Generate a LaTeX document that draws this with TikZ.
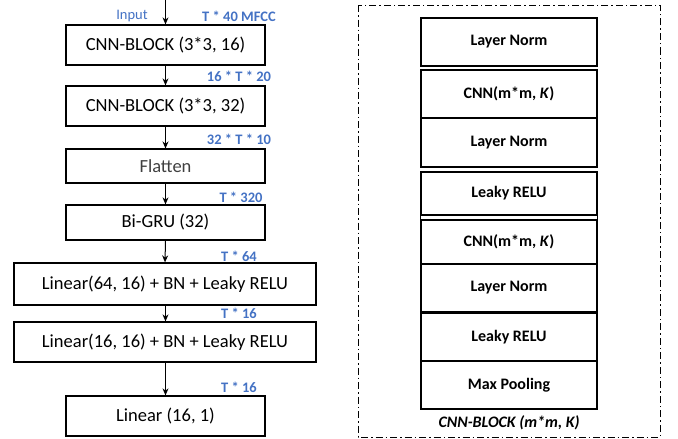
\documentclass[tikz,border=0pt]{standalone}
\usepackage{fontspec}
\setmainfont{Carlito}
\usetikzlibrary{arrows.meta}
\definecolor{lblue}{HTML}{4472C4}
\tikzset{
  box/.style={draw=black, line width=1.3pt, rectangle, inner sep=0pt, font=\fontsize{18.5}{20}\selectfont},
  sbox/.style={draw=black, line width=1.3pt, rectangle, inner sep=0pt, minimum width=176pt, font=\bfseries\fontsize{16}{18}\selectfont},
  arr/.style={-{Stealth[length=7pt,width=6pt]}, line width=1pt},
  dim/.style={text=lblue, font=\bfseries\fontsize{14.5}{16}\selectfont, inner sep=0pt},
}
\begin{document}
\begin{tikzpicture}[x=1pt,y=-1pt]
\useasboundingbox (0,0) rectangle (678,439);
% left column
\coordinate (in) at (165.5,0);
\node[box, minimum width=199pt, minimum height=40pt] (b1) at (165.5,45) {CNN-BLOCK (3*3, 16)};
\node[box, minimum width=199pt, minimum height=40pt] (b2) at (165.5,106) {CNN-BLOCK (3*3, 32)};
\node[box, minimum width=199pt, minimum height=34pt, line width=1.1pt, text=black!75] (fl) at (165.5,166) {Flatten};
\node[box, minimum width=199pt, minimum height=35pt] (gru) at (165.5,222.5) {Bi-GRU (32)};
\node[box, minimum width=302pt, minimum height=42pt] (l1) at (165,284) {Linear(64, 16) + BN + Leaky RELU};
\node[box, minimum width=302pt, minimum height=40pt] (l2) at (165,342) {Linear(16, 16) + BN + Leaky RELU};
\node[box, minimum width=199pt, minimum height=40pt] (l3) at (165.5,416) {Linear (16, 1)};
\draw[arr] (in) -- (b1.north);
\draw[arr] (b1.south) -- (b2.north);
\draw[arr] (b2.south) -- (fl.north);
\draw[arr] (fl.south) -- (gru.north);
\draw[arr] (gru.south) -- (l1.north);
\draw[arr] ([xshift=0.5pt]l1.south) -- ([xshift=0.5pt]l2.north);
\draw[arr] ([xshift=0.5pt]l2.south) -- (l3.north);
% labels
\node[text=lblue, font=\fontsize{14.5}{16}\selectfont, inner sep=0pt] (inl) at (132,16) {Input};
\node[dim] (d0) at (239,16.5) {T * 40 MFCC};
\node[dim] (d1) at (239,76) {16 * T * 20};
\node[dim] (d2) at (239,139) {32 * T * 10};
\node[dim] (d3) at (241,197.5) {T * 320};
\node[dim] (d4) at (239,256) {T * 64};
\node[dim] (d5) at (239,313.5) {T * 16};
\node[dim] (d6) at (239,387.5) {T * 16};
% right frame
\draw[line width=1pt, dash pattern=on 7pt off 3pt on 1.5pt off 3pt] (358,5) rectangle (660,437);
\node[sbox, minimum height=48pt] (r1) at (509,42) {Layer Norm};
\node[sbox, minimum height=48pt] (r2) at (509,94) {CNN(m*m, \textit{K})};
\node[sbox, minimum height=49pt] (r3) at (509,142.5) {Layer Norm};
\node[sbox, minimum height=43pt] (r4) at (509,193.5) {Leaky RELU};
\node[sbox, minimum height=44pt] (r5) at (509,242) {CNN(m*m, \textit{K})};
\node[sbox, minimum height=48pt] (r6) at (509,288) {Layer Norm};
\node[sbox, minimum height=48pt] (r7) at (509,337) {Leaky RELU};
\node[sbox, minimum height=48pt] (r8) at (509,385) {Max Pooling};
\draw[line width=1.3pt] (r4.south west) -- (r5.north west);
\draw[line width=1.3pt] (r4.south east) -- (r5.north east);
\node[font=\bfseries\itshape\fontsize{16}{18}\selectfont, inner sep=0pt] (cap) at (509,423) {CNN-BLOCK (m*m, K)};
\end{tikzpicture}
\end{document}
